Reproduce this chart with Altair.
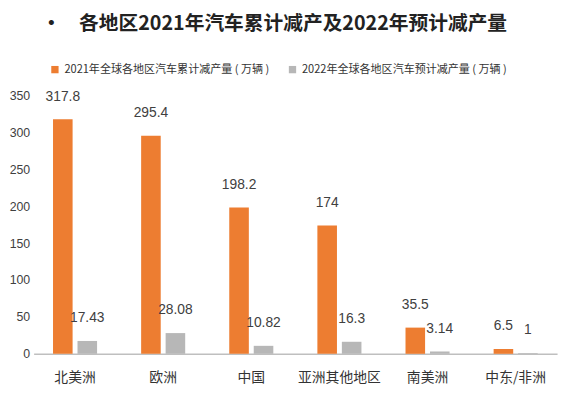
import altair as alt
import pandas as pd

regions = ["北美洲", "欧洲", "中国", "亚洲其他地区", "南美洲", "中东/非洲"]
v2021 = [317.8, 295.4, 198.2, 174, 35.5, 6.5]
v2022 = [17.43, 28.08, 10.82, 16.3, 3.14, 1]
series = ["2021年全球各地区汽车累计减产量 ( 万辆 )", "2022年全球各地区汽车预计减产量 ( 万辆 )"]
colors = ["#ED7D31", "#B7B7B7"]
y_ticks = [0, 50, 100, 150, 200, 250, 300, 350]
title_text = "•" + "\u00a0" * 4 + "各地区2021年汽车累计减产及2022年预计减产量"

rows = []
for r, a, b in zip(regions, v2021, v2022):
    rows.append({"region": r, "series": series[0], "value": a, "label": f"{a:g}"})
    rows.append({"region": r, "series": series[1], "value": b, "label": f"{b:g}"})
df = pd.DataFrame(rows)

font = "Liberation Sans Narrow, Liberation Sans, Noto Sans CJK SC, sans-serif"
cjk = "Noto Sans CJK SC, sans-serif"

x = alt.X("region:N", sort=regions, title=None,
          scale=alt.Scale(paddingInner=0.5, paddingOuter=0.22),
          axis=alt.Axis(labelAngle=0, labelFontSize=14, labelColor="#333333", labelFont=cjk,
                        labelPadding=17, ticks=False, domainColor="#BFBFBF", domainWidth=1.5))
xo = alt.XOffset("series:N", sort=series, scale=alt.Scale(paddingInner=0.2, paddingOuter=0))
y = alt.Y("value:Q", title=None,
          scale=alt.Scale(domain=[0, 350], nice=False),
          axis=alt.Axis(values=y_ticks, tickCount=8, grid=False, domain=False,
                        ticks=False, labelFontSize=12.5, labelColor="#404040", labelFont=font,
                        labelPadding=4, labelOverlap=False))

bars = alt.Chart(df).mark_bar().encode(
    x=x, xOffset=xo, y=y,
    color=alt.Color("series:N", sort=series,
                    scale=alt.Scale(domain=series, range=colors),
                    legend=alt.Legend(title=None, orient="none", direction="horizontal",
                                      legendX=16, legendY=-32, symbolType="square",
                                      symbolSize=55, labelFontSize=11.2, labelFont=cjk,
                                      labelColor="#333333", columnPadding=18,
                                      labelLimit=400, symbolStrokeWidth=0)),
)

labels = alt.Chart(df).mark_text(baseline="bottom", dy=-16, fontSize=14, font=font,
                                 color="#404040").encode(
    x=x, xOffset=xo, y=y, text="label:N")

chart = alt.layer(bars, labels).properties(
    width=531, height=262,
    padding={"left": 26, "top": 86, "right": 5, "bottom": 40},
    autosize=alt.AutoSizeParams(type="none"),
    title=alt.TitleParams(title_text, anchor="start", frame="group", dx=8, offset=30,
                          fontSize=20, font="Noto Sans CJK SC", fontWeight="bold",
                          color="#222222"),
).configure_view(stroke=None)

chart.save("out.html", embed_options={"renderer": "svg", "actions": False})
